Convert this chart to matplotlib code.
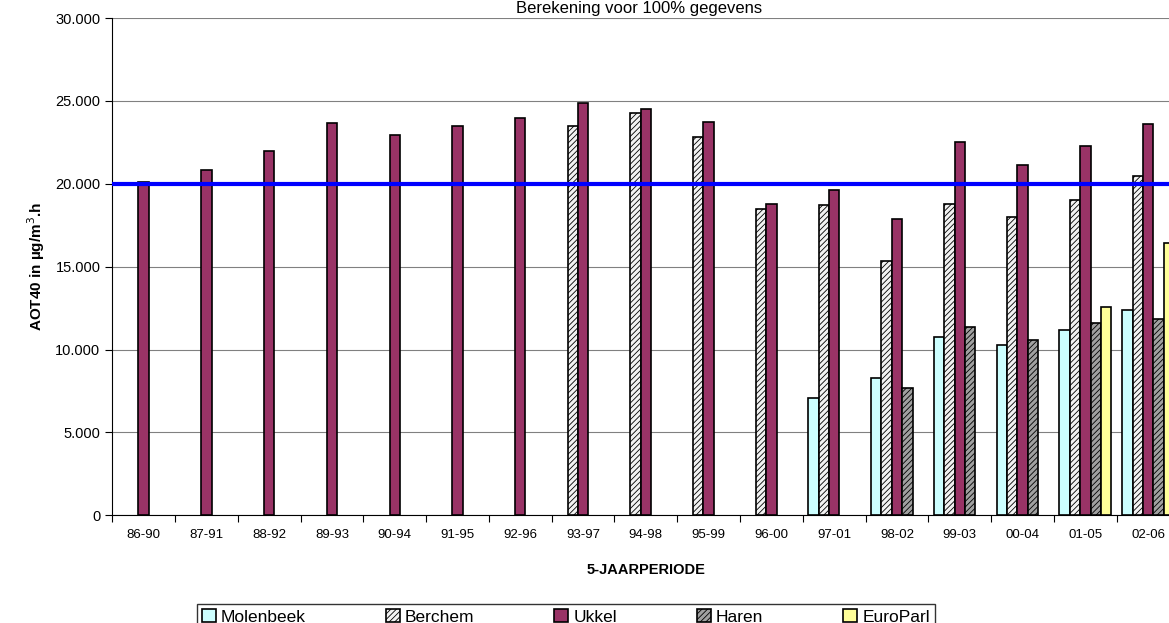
import matplotlib
matplotlib.use("Agg")
import matplotlib.pyplot as plt
import numpy as np
from matplotlib.ticker import FuncFormatter

nan = np.nan
periods = ["86-90","87-91","88-92","89-93","90-94","91-95","92-96","93-97","94-98","95-99",
           "96-00","97-01","98-02","99-03","00-04","01-05","02-06"]
molenbeek = [nan]*11 + [7050, 8300, 10750, 10300, 11200, 12400]
berchem = [nan]*7 + [23500, 24250, 22800, 18450, 18700, 15350, 18800, 18000, 19000, 20450]
ukkel = [20100, 20850, 21950, 23650, 22950, 23500, 23950, 24900, 24500, 23750,
         18750, 19600, 17900, 22500, 21150, 22250, 23600]
haren = [nan]*12 + [7650, 11350, 10550, 11600, 11850]
europarl = [nan]*15 + [12550, 16450]
threshold = 20000

plt.rcParams['font.family'] = ['Liberation Sans', 'DejaVu Sans']
plt.rcParams['hatch.linewidth'] = 0.6
fig = plt.figure(figsize=(11.69, 6.23), dpi=100)
ax = fig.add_axes([0.096, 0.173, 0.913, 0.798])

x = np.arange(len(periods))
w = 0.165
series = [
    ("Molenbeek", molenbeek, dict(color="#CCFFFF")),
    ("Berchem", berchem, dict(color="#F2F2F2", hatch="//////")),
    ("Ukkel", ukkel, dict(color="#993366")),
    ("Haren", haren, dict(color="#A0A0A0", hatch="//////")),
    ("EuroParl", europarl, dict(color="#FFFF99")),
]
for i, (name, vals, st) in enumerate(series):
    ax.bar(x + (i - 2) * w, vals, width=w, edgecolor="black", linewidth=1.2,
           label=name, zorder=3, **st)

ax.axhline(threshold, color="#0000FF", linewidth=3, zorder=4)
ax.set_xlim(-0.5, len(periods) - 0.5)
ax.set_ylim(0, 30000)
ax.set_yticks(np.arange(0, 30001, 5000))
ax.yaxis.set_major_formatter(FuncFormatter(lambda v, p: "0" if v == 0 else f"{int(v):,}".replace(",", ".")))
ax.grid(axis="y", color="#808080", linewidth=0.8, zorder=0)
ax.set_xticks(np.arange(-0.5, len(periods), 1), minor=False)
ax.set_xticklabels([])
ax.set_xticks(x, minor=True)
ax.set_xticklabels(periods, minor=True, fontsize=9.5)
ax.tick_params(axis="x", which="minor", length=0, pad=10)
ax.tick_params(axis="x", which="major", length=5, direction="out")
ax.tick_params(axis="y", labelsize=10.5, length=5)
for s in ["top", "right"]:
    ax.spines[s].set_visible(False)
ax.set_ylabel("AOT40 in µg/m$^3$.h", fontsize=11, fontweight="bold", labelpad=6)
ax.set_xlabel("5-JAARPERIODE", fontsize=10.5, fontweight="bold", labelpad=16)
fig.text(0.547, 0.998, "Berekening voor 100% gegevens", ha="center", va="top", fontsize=12)
fig.legend(loc="lower center", bbox_to_anchor=(0.484, -0.025), ncol=5, fontsize=12.5,
           frameon=True, fancybox=False, edgecolor="black", handlelength=0.8,
           handleheight=0.8, columnspacing=4.6, handletextpad=0.3, borderpad=0.3)
fig.savefig("out.png", dpi=100)
